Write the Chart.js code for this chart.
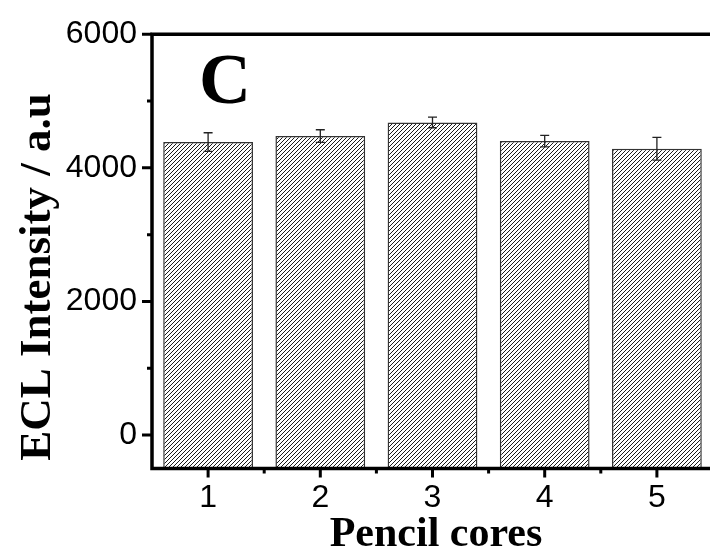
<!DOCTYPE html>
<html>
<head>
<meta charset="utf-8">
<script src="https://cdn.jsdelivr.net/npm/chart.js@4"></script>
<style>
  html, body { margin: 0; padding: 0; background: #fff; overflow: hidden; }
  #wrap { width: 730px; height: 554px; }
</style>
</head>
<body>
<div id="wrap"><canvas id="myChart" width="730" height="554"></canvas></div>
<script>
const cores = ["1", "2", "3", "4", "5"];
const intensity = [4385, 4475, 4680, 4400, 4285];
const errors = [140, 95, 80, 85, 170];
const yTicks = [0, 2000, 4000, 6000];
const yMinorTicks = [1000, 3000, 5000];
const xMinorTicks = [0.5, 1.5, 2.5, 3.5];
const yRange = [-500, 6000];

const panelLabel = "C";
const yTitle = "ECL Intensity / a.u";
const xTitle = "Pencil cores";

// diagonal hatch used to fill the bars
function makeHatch() {
  const tile = document.createElement("canvas");
  tile.width = 4;
  tile.height = 4;
  const t = tile.getContext("2d");
  t.fillStyle = "#fff";
  t.fillRect(0, 0, 4, 4);
  t.strokeStyle = "#1a1a1a";
  t.lineWidth = 1;
  t.beginPath();
  t.moveTo(-1, 5); t.lineTo(5, -1);
  t.moveTo(-1, 1); t.lineTo(1, -1);
  t.moveTo(3, 5); t.lineTo(5, 3);
  t.stroke();
  return document.getElementById("myChart").getContext("2d").createPattern(tile, "repeat");
}

const axesAndErrors = {
  id: "axesAndErrors",
  afterDatasetsDraw(chart) {
    const ctx = chart.ctx;
    const { left, right, top, bottom } = chart.chartArea;
    const x = chart.scales.x;
    const y = chart.scales.y;
    ctx.save();

    // error bars
    ctx.strokeStyle = "#222";
    ctx.lineWidth = 1.3;
    intensity.forEach((v, i) => {
      const px = x.getPixelForValue(i);
      const hi = y.getPixelForValue(v + errors[i]);
      const lo = y.getPixelForValue(v - errors[i]);
      ctx.beginPath();
      ctx.moveTo(px, hi); ctx.lineTo(px, lo);
      ctx.moveTo(px - 4.5, hi); ctx.lineTo(px + 4.5, hi);
      ctx.moveTo(px - 4.5, lo); ctx.lineTo(px + 4.5, lo);
      ctx.stroke();
    });

    // frame: left, top, bottom
    ctx.strokeStyle = "#000";
    ctx.lineWidth = 3.5;
    ctx.beginPath();
    ctx.moveTo(left, top); ctx.lineTo(left, bottom + 1.75);
    ctx.moveTo(left - 1.75, top); ctx.lineTo(chart.width, top);
    ctx.moveTo(left - 1.75, bottom); ctx.lineTo(chart.width, bottom);
    ctx.stroke();

    // tick marks
    ctx.lineWidth = 3;
    ctx.beginPath();
    yTicks.forEach(v => {
      const py = y.getPixelForValue(v);
      ctx.moveTo(left - 10, py); ctx.lineTo(left, py);
    });
    yMinorTicks.forEach(v => {
      const py = y.getPixelForValue(v);
      ctx.moveTo(left - 5, py); ctx.lineTo(left, py);
    });
    cores.forEach((c, i) => {
      const px = x.getPixelForValue(i);
      ctx.moveTo(px, bottom); ctx.lineTo(px, bottom + 9);
    });
    xMinorTicks.forEach(v => {
      const px = x.getPixelForValue(v);
      ctx.moveTo(px, bottom); ctx.lineTo(px, bottom + 5);
    });
    ctx.stroke();

    // titles
    ctx.fillStyle = "#000";
    ctx.font = 'bold 72px "Liberation Serif"';
    ctx.textAlign = "left";
    ctx.textBaseline = "alphabetic";
    ctx.fillText(panelLabel, 199, 103);

    ctx.font = 'bold 42px "Liberation Serif"';
    ctx.textAlign = "center";
    ctx.fillText(xTitle, 436, 546);

    ctx.save();
    ctx.translate(50, 277);
    ctx.rotate(-Math.PI / 2);
    ctx.font = 'bold 45px "Liberation Serif"';
    ctx.fillText(yTitle, 0, 0);
    ctx.restore();

    ctx.restore();
  }
};

const chart = new Chart(document.getElementById("myChart"), {
  type: "bar",
  data: {
    labels: cores,
    datasets: [{
      data: intensity,
      base: yRange[0],
      backgroundColor: makeHatch(),
      borderColor: "#333",
      borderWidth: 1.5,
      borderSkipped: false,
      barPercentage: 0.8,
      categoryPercentage: 1
    }]
  },
  options: {
    responsive: false,
    animation: false,
    layout: { padding: { top: 33, right: 17, bottom: 0, left: 0 } },
    plugins: {
      legend: { display: false },
      tooltip: { enabled: false }
    },
    scales: {
      x: {
        offset: true,
        grid: { display: false, drawTicks: false },
        border: { display: false },
        ticks: {
          color: "#000",
          padding: 10,
          font: { family: "Liberation Sans", size: 32 }
        },
        afterFit: s => { s.height = 85.5; }
      },
      y: {
        min: yRange[0],
        max: yRange[1],
        grid: { display: false, drawTicks: false },
        border: { display: false },
        ticks: {
          color: "#000",
          padding: 15,
          font: { family: "Liberation Sans", size: 32 },
          callback: v => String(v)
        },
        afterBuildTicks: s => { s.ticks = yTicks.map(v => ({ value: v })); },
        afterFit: s => { s.width = 152; }
      }
    }
  },
  plugins: [axesAndErrors]
});
</script>
</body>
</html>
